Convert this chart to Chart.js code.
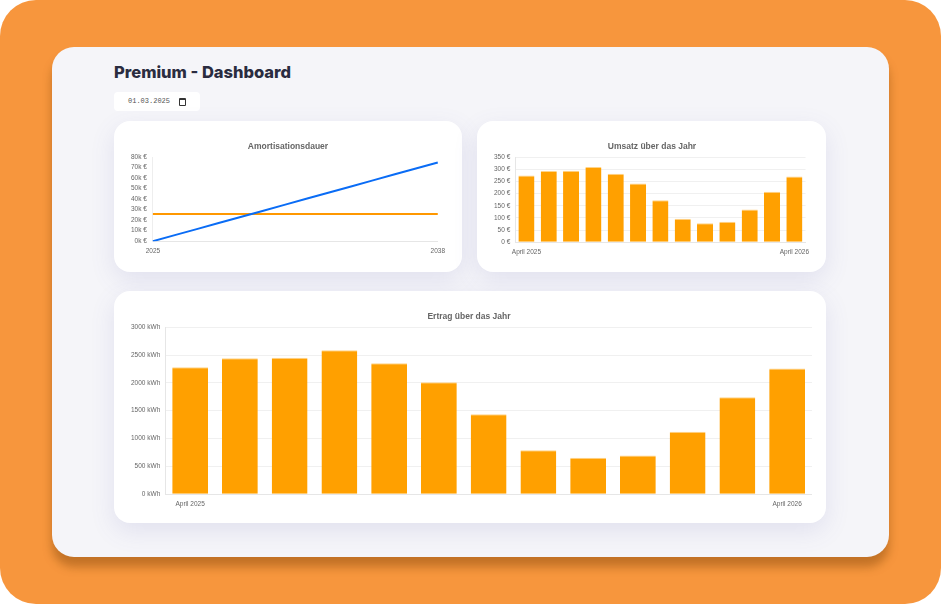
<!DOCTYPE html>
<html lang="de">
<head>
    <meta charset="UTF-8">
    <title>Premium - Dashboard</title>
    <script src="https://cdn.jsdelivr.net/npm/chart.js@4.4.1/dist/chart.umd.min.js"></script>
    <style>
        html, body {
            margin: 0;
            padding: 0;
            width: 941px;
            height: 604px;
            background: #ffffff;
            overflow: hidden;
        }
        .frame {
            position: absolute;
            left: 0; top: 0;
            width: 941px; height: 604px;
            border-radius: 36px;
            background: #f7963d;
        }
        .panel {
            position: absolute;
            left: 52px; top: 47px;
            width: 837px; height: 510px;
            border-radius: 22px;
            background: #f5f5f9;
            box-shadow: 0 10px 10px rgba(130, 70, 10, 0.45);
        }
        h1 {
            position: absolute;
            left: 114px; top: 62px;
            margin: 0;
            font-family: Inter, sans-serif;
            font-weight: 800;
            font-size: 16.5px;
            color: #2a2c40;
        }
        .date {
            position: absolute;
            left: 114px; top: 92px;
            width: 86px; height: 19px;
            background: #fff;
            border-radius: 4px;
            font-family: "Liberation Mono", monospace;
            font-size: 7px;
            color: #555;
            line-height: 19px;
        }
        .date span { position: absolute; left: 14px; }
        .date i {
            position: absolute;
            left: 65px; top: 6px;
            width: 5px; height: 5px;
            border: 1px solid #333;
            border-top-width: 2px;
            border-radius: 1px;
        }
        .card {
            position: absolute;
            background: #fff;
            border-radius: 16px;
            box-shadow: 0 8px 24px rgba(90, 90, 170, 0.13);
        }
        .box { position: absolute; }
    </style>
</head>
<body>
    <div class="frame"></div>
    <div class="panel"></div>
    <h1>Premium - Dashboard</h1>
    <div class="date"><span>01.03.2025</span><i></i></div>

    <div class="card" style="left:114px; top:121px; width:348px; height:151px;"></div>
    <div class="card" style="left:477px; top:121px; width:349px; height:151px;"></div>
    <div class="card" style="left:114px; top:291px; width:712px; height:232px;"></div>

    <div class="box" style="left:125px; top:130px; width:326px; height:131px;"><canvas id="amortChart"></canvas></div>
    <div class="box" style="left:489px; top:130px; width:326px; height:132px;"><canvas id="umsatzChart"></canvas></div>
    <div class="box" style="left:126px; top:300px; width:686px; height:214px;"><canvas id="ertragChart"></canvas></div>

    <script>
        // Amortisation
        const years = ["2025", "2026", "2027", "2028", "2029", "2030", "2031", "2032", "2033", "2034", "2035", "2036", "2037", "2038"];
        const ersparnis = [0, 5800, 11500, 17300, 23100, 28800, 34600, 40400, 46200, 51900, 57700, 63500, 69200, 75000];
        const investition = [26000, 26000, 26000, 26000, 26000, 26000, 26000, 26000, 26000, 26000, 26000, 26000, 26000, 26000];

        // Monate April 2025 - April 2026
        const months = ["April 2025", "Mai 2025", "Juni 2025", "Juli 2025", "August 2025", "September 2025", "Oktober 2025",
            "November 2025", "Dezember 2025", "Januar 2026", "Februar 2026", "März 2026", "April 2026"];
        const umsatz = [275, 293, 294, 310, 282, 242, 173, 97, 78, 84, 135, 208, 271];
        const ertrag = [2281, 2443, 2449, 2587, 2353, 2012, 1437, 790, 653, 695, 1120, 1743, 2257];

        Chart.defaults.font.family = "Arial, 'Liberation Sans', sans-serif";
        Chart.defaults.color = "#666";

        const firstLast = function (value, index, ticks) {
            return (index === 0 || index === ticks.length - 1) ? this.getLabelForValue(value) : "";
        };

        function titleOpts(text) {
            return {
                display: true,
                text: text,
                font: { size: 8.5, weight: "bold" },
                padding: { top: 12, bottom: 5 }
            };
        }

        const xAxis = {
            grid: { display: false, drawTicks: false },
            border: { color: "#e6e6e6" },
            ticks: { font: { size: 6.5 }, padding: 6, autoSkip: false, maxRotation: 0, callback: firstLast }
        };

        new Chart(document.getElementById("amortChart"), {
            type: "line",
            data: {
                labels: years,
                datasets: [{
                    data: ersparnis,
                    borderColor: "#0a6cf5",
                    borderWidth: 2,
                    pointRadius: 0,
                    fill: false
                }, {
                    data: investition,
                    borderColor: "#ff9800",
                    borderWidth: 2,
                    pointRadius: 0,
                    fill: false
                }]
            },
            options: {
                responsive: true,
                maintainAspectRatio: false,
                animation: false,
                plugins: {
                    legend: { display: false },
                    title: titleOpts("Amortisationsdauer"),
                    tooltip: { enabled: false }
                },
                scales: {
                    x: xAxis,
                    y: {
                        min: 0,
                        max: 80000,
                        grid: { display: false, drawTicks: false },
                        border: { color: "#eee" },
                        ticks: {
                            stepSize: 10000,
                            autoSkip: false,
                            padding: 6,
                            font: { size: 6.5 },
                            callback: v => (v / 1000) + "k €"
                        }
                    }
                }
            }
        });

        function barChart(id, title, values, max, step, unit) {
            new Chart(document.getElementById(id), {
                type: "bar",
                data: {
                    labels: months,
                    datasets: [{
                        data: values,
                        backgroundColor: "#ffa000",
                        borderColor: "#ffd48a",
                        borderWidth: { top: 1, left: 0, right: 0, bottom: 0 }
                    }]
                },
                options: {
                    responsive: true,
                    maintainAspectRatio: false,
                    animation: false,
                    plugins: {
                        legend: { display: false },
                        title: titleOpts(title),
                        tooltip: { enabled: false }
                    },
                    scales: {
                        x: xAxis,
                        y: {
                            min: 0,
                            max: max,
                            grid: { color: "#f0f0f0", drawTicks: false },
                            border: { color: "#e6e6e6" },
                            ticks: {
                                stepSize: step,
                                autoSkip: false,
                                padding: 5,
                                font: { size: 6.5 },
                                callback: v => v + " " + unit
                            }
                        }
                    }
                }
            });
        }

        barChart("umsatzChart", "Umsatz über das Jahr", umsatz, 350, 50, "€");
        barChart("ertragChart", "Ertrag über das Jahr", ertrag, 3000, 500, "kWh");
    </script>
</body>
</html>
